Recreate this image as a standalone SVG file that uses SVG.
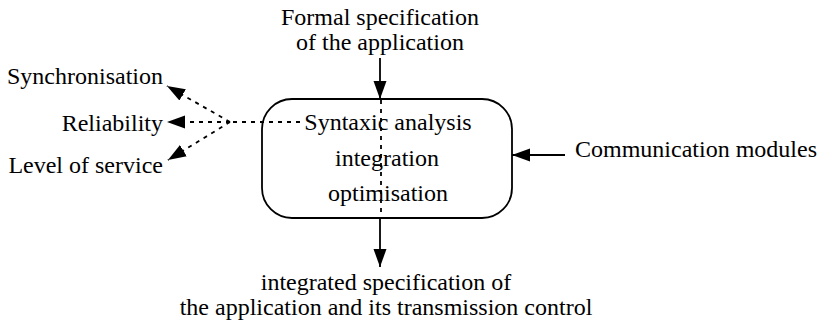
<svg xmlns="http://www.w3.org/2000/svg" width="818" height="322" viewBox="0 0 818 322">
<style>
text{font-family:"Liberation Serif","Times New Roman",serif;font-size:24px;fill:#000}
.c{text-anchor:middle}
.e{text-anchor:end}
.ln{stroke:#000;stroke-width:1.8;fill:none}
.ds{stroke:#000;stroke-width:1.8;fill:none;stroke-dasharray:4 5}
</style>
<defs>
<marker id="ah" markerWidth="20" markerHeight="14" refX="18" refY="6.5" orient="auto" markerUnits="userSpaceOnUse" viewBox="0 0 20 13">
<path d="M0,0 L18,6.5 L0,13 Z" fill="#000"/>
</marker>
</defs>
<g id="box">
<rect x="262" y="99" width="250" height="119" rx="30" ry="30" class="ln"/>
<text x="388" y="130" class="c">Syntaxic analysis</text>
<text x="387" y="166" class="c">integration</text>
<text x="388" y="201" class="c">optimisation</text>
</g>
<g id="formal">
<text x="380" y="25" class="c">Formal specification</text>
<text x="380" y="50" class="c">of the application</text>
</g>
<g id="sync"><text x="163" y="84" class="e">Synchronisation</text></g>
<g id="rel"><text x="163" y="131" class="e">Reliability</text></g>
<g id="los"><text x="163" y="173" class="e">Level of service</text></g>
<g id="comm"><text x="575" y="157">Communication modules</text></g>
<g id="output">
<text x="386" y="290" class="c">integrated specification of</text>
<text x="386" y="315" class="c">the application and its transmission control</text>
</g>
<g id="connectors">
<line x1="380" y1="58" x2="380" y2="99" class="ln" marker-end="url(#ah)"/>
<line x1="381" y1="100" x2="381" y2="218" class="ds"/>
<line x1="380" y1="218" x2="380" y2="267" class="ln" marker-end="url(#ah)"/>
<line x1="565" y1="155" x2="512" y2="155" class="ln" marker-end="url(#ah)"/>
<line x1="300" y1="122" x2="230" y2="122" class="ds"/>
<line x1="230" y1="122" x2="167" y2="86" class="ds" marker-end="url(#ah)"/>
<line x1="230" y1="122" x2="167" y2="122" class="ds" marker-end="url(#ah)"/>
<line x1="230" y1="122" x2="168" y2="160" class="ds" marker-end="url(#ah)"/>
</g>
</svg>
